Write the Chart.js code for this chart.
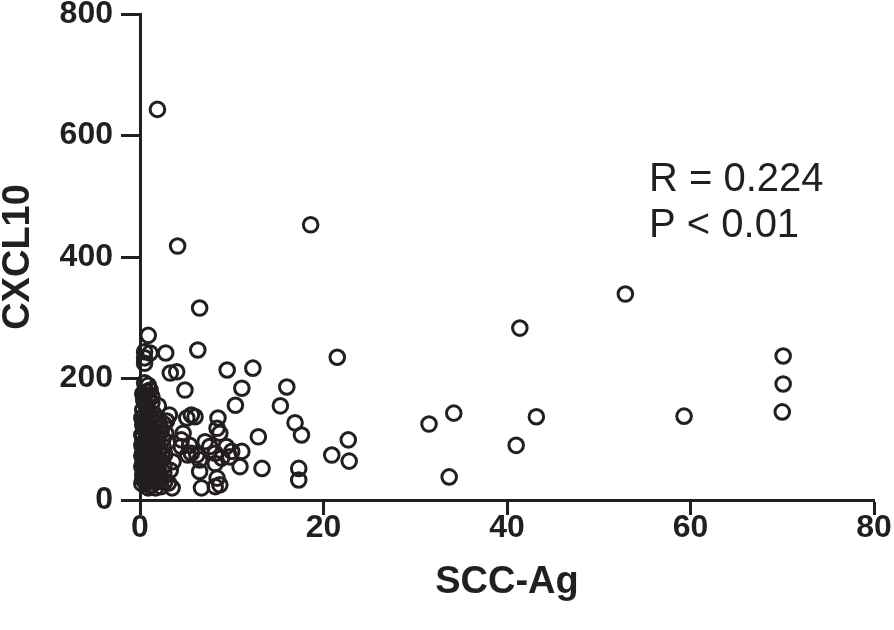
<!DOCTYPE html>
<html>
<head>
<meta charset="utf-8">
<script src="https://cdn.jsdelivr.net/npm/chart.js@4/dist/chart.umd.min.js"></script>
<style>
  html, body { margin: 0; padding: 0; background: #fff; }
  #wrap { width: 894px; height: 630px; }
</style>
</head>
<body>
<div id="wrap"><canvas id="chart" width="894" height="630"></canvas></div>
<script>
const INK = '#231f20';
const FONT = "'Liberation Sans', Arial, Helvetica, sans-serif";

// SCC-Ag (x) vs CXCL10 (y)
const sccAg = [
  // outliers / spread
  1.9, 18.6, 4.1, 6.5, 52.9, 41.4, 0.9, 6.3, 2.8, 21.5, 70.1,
  0.5, 1.1, 0.5, 0.5, 9.5, 12.3, 3.3, 4.0, 4.9,
  0.5, 0.9, 1.1, 0.5, 0.9, 0.5, 11.1, 16.0, 70.1,
  10.4, 15.3, 16.9, 17.6, 31.5, 34.2, 43.2, 59.3, 70.0,
  12.9, 22.7, 41.0, 20.9, 22.8, 13.3, 17.3, 17.3, 33.7,
  // middle group
  5.6, 6.0, 5.1, 8.5, 8.4, 8.7, 4.5, 5.4, 7.1, 7.6, 9.4, 10.0, 11.1,
  6.2, 6.5, 8.2, 8.9, 9.8, 10.9, 6.5, 8.4, 8.7, 6.7, 8.2, 5.2, 4.7,
  4.5, 5.6, 3.6, 3.3, 3.5, 2.7, 3.1, 8.2,
  // dense column near zero
  0.4, 1.3, 2.0, 0.8, 0.3, 0.8, 1.5, 0.4, 1.2, 2.0, 0.6, 1.6, 0.3, 1.0,
  2.2, 0.5, 1.4, 0.8, 1.9, 0.3, 1.1, 2.5, 0.6, 1.7, 0.4, 1.3, 2.1, 0.7,
  1.6, 0.3, 1.0, 2.4, 0.5, 1.4, 0.9, 1.9, 0.3, 1.2, 2.6, 0.6, 1.6, 0.4,
  1.1, 2.2, 0.7, 1.5, 0.3, 1.0, 1.9, 0.6, 1.3, 2.3, 0.9, 2.8, 3.0, 2.7,
  3.2, 2.9,
  0.2, 0.9, 1.8, 0.4, 1.2, 2.3, 0.2, 0.9, 1.5, 0.3, 1.0, 1.8, 0.5, 1.1,
  2.0, 0.2, 0.8, 1.6, 2.2, 0.4, 1.1, 1.7, 0.2, 0.9, 1.9, 0.3, 1.3, 2.0,
  0.5, 1.6, 0.2, 1.1, 1.7, 2.3, 2.6, 2.5, 2.6, 0.2, 0.3, 1.3, 0.7
];
const cxcl10 = [
  643, 453, 418, 316, 339, 283, 271, 247, 242, 235, 237,
  244, 242, 234, 225, 214, 217, 209, 211, 181,
  193, 189, 181, 173, 168, 160, 184, 186, 191,
  156, 155, 127, 107, 125, 143, 137, 138, 145,
  104, 99, 90, 74, 64, 52, 52, 33, 38,
  140, 137, 135, 135, 118, 110, 99, 90, 96, 88, 88, 80, 80,
  74, 66, 77, 69, 71, 55, 47, 36, 25, 20, 22, 74, 110,
  88, 77, 63, 49, 20, 30, 28, 60,
  165, 160, 155, 152, 148, 145, 142, 138, 136, 134, 130, 128, 124, 122,
  120, 116, 113, 110, 108, 104, 102, 100, 97, 95, 91, 89, 86, 84,
  81, 78, 76, 74, 71, 69, 66, 63, 60, 58, 56, 53, 51, 48,
  45, 43, 40, 38, 35, 33, 30, 28, 25, 22, 20, 110, 95, 75,
  140, 130,
  135, 132, 126, 119, 117, 112, 107, 105, 99, 94, 92, 90, 87, 83,
  80, 73, 72, 70, 66, 64, 62, 57, 55, 50, 47, 42, 41, 36,
  32, 30, 27, 24, 20, 33, 45, 88, 125, 90, 175, 170, 178
];

const xTicks = [0, 20, 40, 60, 80];
const yTicks = [0, 200, 400, 600, 800];
const statLines = ['R = 0.224', 'P < 0.01'];

const points = sccAg.map((x, i) => ({ x, y: cxcl10[i] }));

const statsLabel = {
  id: 'statsLabel',
  afterDraw(chart) {
    const { ctx } = chart;
    ctx.save();
    ctx.fillStyle = INK;
    ctx.font = `40px ${FONT}`;
    ctx.textBaseline = 'alphabetic';
    ctx.textAlign = 'left';
    statLines.forEach((t, i) => ctx.fillText(t, 649, 191 + i * 46));
    ctx.restore();
  },
};

const gridStyle = len => ({
  display: true,
  drawOnChartArea: false,
  drawTicks: true,
  tickLength: len,
  tickWidth: 3,
  tickColor: INK,
});
const border = { display: true, width: 3, color: INK };

new Chart(document.getElementById('chart'), {
  type: 'scatter',
  data: {
    datasets: [
      {
        data: points,
        pointStyle: 'circle',
        pointRadius: 7.3,
        pointHoverRadius: 7.3,
        borderWidth: 3,
        borderColor: INK,
        backgroundColor: 'rgba(0,0,0,0)',
        clip: false,
      },
    ],
  },
  options: {
    responsive: false,
    animation: false,
    devicePixelRatio: 1,
    layout: { padding: { top: 14, right: 20, left: 0, bottom: 0 } },
    plugins: {
      legend: { display: false },
      tooltip: { enabled: false },
    },
    scales: {
      x: {
        type: 'linear',
        min: 0,
        max: 80,
        grid: gridStyle(15),
        border,
        afterBuildTicks: s => { s.ticks = xTicks.map(v => ({ value: v })); },
        ticks: { color: INK, padding: -6, font: { family: FONT, size: 32, weight: 'bold' }, maxRotation: 0 },
        title: {
          display: true,
          text: 'SCC-Ag',
          color: INK,
          padding: { top: 0, bottom: 25 },
          font: { family: FONT, size: 38, weight: 'bold', lineHeight: 1.2 },
        },
        afterFit: s => { s.height = 130; s.paddingLeft = 0; s.paddingRight = 0; },
      },
      y: {
        type: 'linear',
        min: 0,
        max: 800,
        grid: gridStyle(19),
        border,
        afterBuildTicks: s => { s.ticks = yTicks.map(v => ({ value: v })); },
        ticks: { color: INK, padding: 8, font: { family: FONT, size: 32, weight: 'bold' } },
        title: {
          display: true,
          text: 'CXCL10',
          color: INK,
          padding: 0,
          font: { family: FONT, size: 38, weight: 'bold', lineHeight: 1.0 },
        },
        afterFit: s => { s.width = 140; s.paddingTop = 0; s.paddingBottom = 0; },
      },
    },
  },
  plugins: [statsLabel],
});
</script>
</body>
</html>
